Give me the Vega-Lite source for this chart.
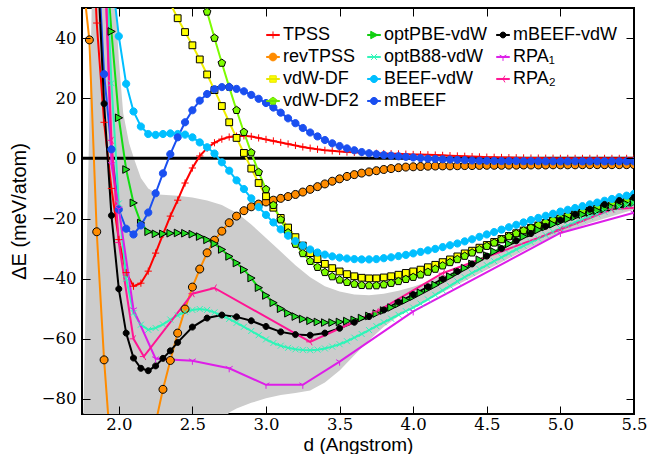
{
"$schema": "https://vega.github.io/schema/vega-lite/v6.json",
"width": 552, "height": 406,
"autosize": {"type": "none"},
"padding": {"left": 82, "top": 8, "right": 13, "bottom": 40},
"background": "white",
"config": {"view": {"stroke": "black", "strokeWidth": 2}, "axis": {"grid": false, "domain": false}},
"datasets": {
"main": [
{"d":1.75,"R":62},
{"d":1.8,"T":100,"R":39.4,"M":110,"K":120},
{"d":1.85,"T":45,"R":-24.4,"P":110,"B":120,"M":75,"K":70},
{"d":1.9,"T":12,"R":-67,"P":75,"B":80,"C":100,"M":28,"K":18.2,"R1":75,"R2":70},
{"d":1.95,"T":-10,"R":-100,"P":42.2,"B":25,"C":62,"M":3,"K":-19,"R1":-2,"R2":6},
{"d":2.0,"T":-27,"R":-125,"P":13.5,"B":-15,"C":40.6,"M":-17,"K":-43.4,"R1":-16.8,"R2":-28},
{"d":2.05,"T":-38,"R":-135,"P":-3.7,"B":-40,"C":24.8,"M":-23.4,"K":-58.1},
{"d":2.1,"T":-42.5,"R":-135,"P":-14.8,"B":-51.4,"C":15.6,"M":-25.3,"K":-66.4,"R1":-50.3,"R2":-60},
{"d":2.15,"T":-41.5,"R":-125,"P":-21.5,"B":-55.3,"C":10.6,"M":-22.3,"K":-69.8},
{"d":2.17,"R2":-65.9},
{"d":2.2,"T":-37.5,"R":-108,"P":-24.4,"B":-57,"C":8.1,"M":-18,"K":-70.6},
{"d":2.25,"T":-31.5,"R":-88,"P":-25.1,"B":-56.4,"C":7.8,"M":-11.6,"K":-69,"R1":-66.6},
{"d":2.3,"T":-25.3,"R":-76.8,"Y":57,"P":-25.1,"B":-55.2,"C":8.1,"M":-5,"K":-66.5},
{"d":2.35,"T":-19.2,"R":-67.2,"Y":51.5,"P":-24.9,"B":-53.6,"C":8.3,"M":1.4,"K":-64},
{"d":2.4,"T":-13.9,"R":-58.1,"Y":46.6,"P":-24.8,"B":-52.2,"C":8.1,"M":7,"K":-61.2},
{"d":2.45,"T":-8.2,"R":-50.1,"Y":42,"P":-24.9,"B":-51,"C":7.9,"M":12},
{"d":2.5,"T":-3.2,"R":-42.8,"Y":37.6,"G":70,"P":-25.2,"B":-50.4,"C":7,"M":16,"K":-56.1,"R1":-67.3,"R2":-45},
{"d":2.55,"T":0.8,"R":-36.8,"Y":32.9,"G":58.5,"P":-26,"B":-50.1,"C":5.3,"M":19.2},
{"d":2.6,"T":3.4,"R":-31.4,"Y":27.9,"G":48.7,"P":-27.1,"B":-50.4,"C":3.7,"M":21.4,"K":-53.1},
{"d":2.65,"T":5.2,"R":-27.2,"Y":22.7,"G":40,"P":-28.4,"B":-51.2,"C":1.6,"M":23,"R2":-43.1},
{"d":2.7,"T":6.4,"R":-24.2,"Y":17.4,"G":31.7,"P":-30.3,"B":-52.3,"C":-1.3,"M":23.7,"K":-52.1},
{"d":2.75,"T":7.1,"R":-21.4,"Y":12,"G":23.7,"P":-32.6,"B":-53.4,"C":-4.1,"M":23.7,"R1":-69.8},
{"d":2.8,"T":7.4,"R":-19.2,"Y":6.8,"G":16,"P":-34.8,"B":-54.7,"C":-7.3,"M":23.1,"K":-52.7},
{"d":2.85,"T":7.5,"R":-17.4,"Y":1.8,"G":8.7,"P":-37,"B":-56,"C":-10.2,"M":22.3},
{"d":2.9,"T":7.3,"R":-16.1,"Y":-3.4,"G":1.9,"P":-39.8,"B":-57.4,"C":-13.3,"M":21.1,"K":-54},
{"d":2.95,"T":6.8,"R":-15.2,"Y":-8.2,"G":-4.6,"P":-43,"B":-58.8,"C":-16.2,"M":19.8},
{"d":3.0,"T":6.3,"R":-14.5,"Y":-12.6,"G":-10.3,"P":-45.6,"B":-60.2,"C":-18.8,"M":18.4,"K":-55.9,"R1":-75.3},
{"d":3.05,"T":5.8,"R":-13.9,"Y":-16.4,"G":-15.6,"P":-48,"B":-61.4,"C":-21.3,"M":16.9},
{"d":3.1,"T":5.3,"R":-13.3,"Y":-19.8,"G":-20.4,"P":-50,"B":-62.3,"C":-23.6,"M":15.2,"K":-57.7},
{"d":3.15,"T":4.8,"R":-12.7,"Y":-23,"G":-24.7,"P":-51.5,"B":-63,"C":-25.7,"M":13.3},
{"d":3.2,"T":4.3,"R":-12,"Y":-26.2,"G":-28.5,"P":-52.6,"B":-63.5,"C":-27.5,"M":11.7,"K":-58.6},
{"d":3.25,"T":3.8,"R":-11.2,"Y":-29,"G":-31.6,"P":-53.4,"B":-63.7,"C":-29,"M":10.1,"R1":-75.3},
{"d":3.3,"T":3.4,"R":-10.3,"Y":-31.5,"G":-34.2,"P":-54,"B":-63.8,"C":-30.3,"M":8.6,"K":-58.8,"R2":-61},
{"d":3.35,"T":3.0,"R":-9.4,"Y":-33.5,"G":-36.2,"P":-54.4,"B":-63.6,"C":-31.3,"M":7.3},
{"d":3.4,"T":2.7,"R":-8.5,"Y":-35.1,"G":-37.9,"P":-54.6,"B":-63.2,"C":-32,"M":6.1,"K":-58.1},
{"d":3.45,"T":2.5,"R":-7.6,"Y":-36.5,"G":-39.3,"P":-54.6,"B":-62.6,"C":-32.6,"M":5},
{"d":3.5,"T":2.3,"R":-6.8,"Y":-37.6,"G":-40.4,"P":-54.4,"B":-61.8,"C":-33,"M":4.1,"K":-56.5,"R1":-67.6},
{"d":3.55,"T":2.1,"R":-6.0,"Y":-38.5,"G":-41.2,"P":-54.1,"B":-60.8,"C":-33.3,"M":3.3},
{"d":3.6,"T":2.0,"R":-5.4,"Y":-39.2,"G":-41.8,"P":-53.7,"B":-59.6,"C":-33.5,"M":2.7,"K":-54.5},
{"d":3.65,"T":1.9,"R":-4.9,"Y":-39.7,"G":-42.2,"P":-53.1,"B":-58.4,"C":-33.6,"M":2.1},
{"d":3.7,"T":1.8,"R":-4.5,"Y":-39.9,"G":-42.3,"P":-52.4,"B":-57.1,"C":-33.6,"M":1.7,"K":-52.6},
{"d":3.75,"T":1.7,"R":-4.1,"Y":-39.9,"G":-42.3,"P":-51.6,"B":-55.8,"C":-33.5,"M":1.4,"R2":-51},
{"d":3.8,"T":1.6,"R":-3.7,"Y":-39.6,"G":-42,"P":-50.6,"B":-54.5,"C":-33.2,"M":1.1,"K":-50.4},
{"d":3.85,"T":1.55,"R":-3.4,"Y":-39.2,"G":-41.5,"P":-49.6,"B":-53.3,"C":-32.9,"M":0.9},
{"d":3.9,"T":1.5,"R":-3.1,"Y":-38.7,"G":-40.9,"P":-48.4,"B":-52,"C":-32.5,"M":0.7,"K":-47.8},
{"d":3.95,"T":1.4,"R":-2.9,"Y":-38.1,"G":-40.2,"P":-47.2,"B":-50.8,"C":-32.1,"M":0.5},
{"d":4.0,"T":1.3,"R":-2.8,"Y":-37.6,"G":-39.5,"P":-46,"B":-49.6,"C":-31.6,"M":0.3,"K":-45.3,"R1":-50.9},
{"d":4.05,"T":1.25,"R":-2.7,"Y":-37,"G":-38.7,"P":-44.7,"B":-48.3,"C":-31.1,"M":0.1},
{"d":4.1,"T":1.2,"R":-2.6,"Y":-36.2,"G":-37.8,"P":-43.4,"B":-46.9,"C":-30.6,"M":-0.1,"K":-42.7},
{"d":4.15,"T":1.1,"R":-2.55,"Y":-35.4,"G":-36.8,"P":-42.1,"B":-45.4,"C":-30.1,"M":-0.2},
{"d":4.2,"T":1.0,"R":-2.5,"Y":-34.5,"G":-35.7,"P":-40.7,"B":-43.9,"C":-29.5,"M":-0.3,"K":-40.1,"R2":-38.2},
{"d":4.25,"T":0.9,"R":-2.5,"Y":-33.6,"G":-34.6,"P":-39.3,"B":-42.4,"C":-28.9,"M":-0.4},
{"d":4.3,"T":0.8,"R":-2.45,"Y":-32.6,"G":-33.6,"P":-37.9,"B":-40.9,"C":-28.3,"M":-0.5,"K":-37.6},
{"d":4.35,"T":0.7,"R":-2.4,"Y":-31.6,"G":-32.5,"P":-36.5,"B":-39.5,"C":-27.6,"M":-0.6},
{"d":4.4,"T":0.6,"R":-2.4,"Y":-30.7,"G":-31.4,"P":-35.1,"B":-38.1,"C":-26.9,"M":-0.7,"K":-35.1},
{"d":4.45,"T":0.5,"R":-2.35,"Y":-29.7,"G":-30.3,"P":-33.7,"B":-36.8,"C":-26.1,"M":-0.8},
{"d":4.5,"T":0.4,"R":-2.3,"Y":-28.8,"G":-29.2,"P":-32.3,"B":-35.5,"C":-25.3,"M":-0.8,"K":-32.5},
{"d":4.55,"T":0.35,"R":-2.3,"Y":-27.8,"G":-28.1,"P":-31,"B":-34.2,"C":-24.5,"M":-0.85},
{"d":4.6,"T":0.3,"R":-2.3,"Y":-26.8,"G":-27,"P":-29.7,"B":-32.9,"C":-23.7,"M":-0.9,"K":-30},
{"d":4.65,"T":0.25,"R":-2.25,"Y":-25.8,"G":-26,"P":-28.4,"B":-31.6,"C":-22.9,"M":-0.9},
{"d":4.7,"T":0.2,"R":-2.25,"Y":-24.9,"G":-25,"P":-27.2,"B":-30.3,"C":-22.1,"M":-0.9,"K":-27.4},
{"d":4.75,"T":0.15,"R":-2.2,"Y":-24,"G":-24,"P":-26,"B":-29.1,"C":-21.3,"M":-0.95},
{"d":4.8,"T":0.1,"R":-2.2,"Y":-23.1,"G":-23.1,"P":-24.9,"B":-27.9,"C":-20.5,"M":-0.95,"K":-25},
{"d":4.85,"T":0.1,"R":-2.2,"Y":-22.3,"G":-22.2,"P":-23.8,"B":-26.7,"C":-19.8,"M":-0.95},
{"d":4.9,"T":0.05,"R":-2.2,"Y":-21.5,"G":-21.3,"P":-22.8,"B":-25.5,"C":-19.1,"M":-1,"K":-22.6},
{"d":4.95,"T":0.05,"R":-2.15,"Y":-20.7,"G":-20.5,"P":-21.9,"B":-24.4,"C":-18.4,"M":-1},
{"d":5.0,"T":0,"R":-2.15,"Y":-20,"G":-19.7,"P":-21,"B":-23.3,"C":-17.7,"M":-1,"K":-20.5,"R1":-24.8,"R2":-23.7},
{"d":5.05,"T":0,"R":-2.15,"Y":-19.3,"G":-19,"P":-20.2,"B":-22.3,"C":-17.1,"M":-1},
{"d":5.1,"T":0,"R":-2.15,"Y":-18.6,"G":-18.3,"P":-19.4,"B":-21.3,"C":-16.5,"M":-1,"K":-18.6},
{"d":5.15,"T":0,"R":-2.1,"Y":-18,"G":-17.6,"P":-18.7,"B":-20.3,"C":-15.9,"M":-1},
{"d":5.2,"T":0,"R":-2.1,"Y":-17.4,"G":-17,"P":-18,"B":-19.4,"C":-15.3,"M":-1,"K":-16.9},
{"d":5.25,"T":0,"R":-2.1,"Y":-16.8,"G":-16.4,"P":-17.4,"B":-18.6,"C":-14.7,"M":-1},
{"d":5.3,"T":0,"R":-2.1,"Y":-16.2,"G":-15.8,"P":-16.8,"B":-17.8,"C":-14.1,"M":-1,"K":-15.3},
{"d":5.35,"T":0,"R":-2.1,"Y":-15.7,"G":-15.2,"P":-16.2,"B":-17,"C":-13.5,"M":-1,"R2":-16.9},
{"d":5.4,"T":0,"R":-2.1,"Y":-15.2,"G":-14.7,"P":-15.7,"B":-16.3,"C":-12.9,"M":-1,"K":-14},
{"d":5.45,"T":0,"R":-2.1,"Y":-14.7,"G":-14.2,"P":-15.2,"B":-15.6,"C":-12.4,"M":-1},
{"d":5.5,"T":0,"R":-2.1,"Y":-14.2,"G":-13.7,"P":-14.7,"B":-15,"C":-11.8,"M":-1,"K":-13,"R1":-18.1,"R2":-16.4}
],
"band": [
{"d":1.755,"lo":-95,"hi":-95},
{"d":1.82,"lo":-95,"hi":60},
{"d":1.97,"lo":-95,"hi":60},
{"d":1.98,"lo":-95,"hi":50},
{"d":2.0,"lo":-95,"hi":33},
{"d":2.03,"lo":-95,"hi":15},
{"d":2.07,"lo":-95,"hi":5},
{"d":2.11,"lo":-95,"hi":-1},
{"d":2.15,"lo":-95,"hi":-6.5},
{"d":2.2,"lo":-95,"hi":-10},
{"d":2.27,"lo":-95,"hi":-12},
{"d":2.4,"lo":-95,"hi":-12.4},
{"d":2.5,"lo":-95,"hi":-13},
{"d":2.6,"lo":-95,"hi":-14},
{"d":2.7,"lo":-88,"hi":-15.5},
{"d":2.75,"lo":-84.5,"hi":-16.8},
{"d":2.8,"lo":-83.2,"hi":-18},
{"d":2.9,"lo":-81.3,"hi":-22},
{"d":3.0,"lo":-79.8,"hi":-26.5},
{"d":3.1,"lo":-78.7,"hi":-31},
{"d":3.2,"lo":-78,"hi":-35.5},
{"d":3.3,"lo":-77.2,"hi":-39.5},
{"d":3.4,"lo":-74.5,"hi":-42.5},
{"d":3.5,"lo":-70.5,"hi":-44.3},
{"d":3.6,"lo":-65.5,"hi":-45.3},
{"d":3.7,"lo":-60.5,"hi":-45.5},
{"d":3.8,"lo":-56,"hi":-45},
{"d":3.9,"lo":-52.5,"hi":-44},
{"d":4.0,"lo":-49.5,"hi":-42.7},
{"d":4.1,"lo":-47,"hi":-41},
{"d":4.2,"lo":-44.5,"hi":-39},
{"d":4.3,"lo":-42,"hi":-37},
{"d":4.4,"lo":-39.5,"hi":-34.8},
{"d":4.5,"lo":-37,"hi":-32.5},
{"d":4.6,"lo":-34.5,"hi":-30},
{"d":4.8,"lo":-29.5,"hi":-25},
{"d":5.0,"lo":-25,"hi":-20.5},
{"d":5.2,"lo":-21.5,"hi":-17},
{"d":5.5,"lo":-17,"hi":-12.5}
]
},
"resolve": {"scale": {"shape": "independent", "fill": "independent", "stroke": "independent"}, "axis": {"x": "independent", "y": "independent"}},
"layer": [
{
"data": {"name": "band"},
"mark": {"type": "area", "color": "#cccccc", "opacity": 1, "clip": true},
"encoding": {
"x": {"field": "d", "type": "quantitative", "scale": {"domain": [1.75, 5.5], "nice": false, "zero": false},
 "axis": {"orient": "top", "values": [2, 2.5, 3, 3.5, 4, 4.5, 5, 5.5], "labels": false, "tickSize": -8, "tickColor": "black", "tickWidth": 1, "title": null, "domain": false, "grid": false, "zindex": 1}},
"y": {"field": "lo", "type": "quantitative", "scale": {"domain": [-85, 50], "nice": false, "zero": false},
 "axis": {"orient": "right", "values": [-80, -60, -40, -20, 0, 20, 40], "labels": false, "tickSize": -8, "tickColor": "black", "tickWidth": 1, "title": null, "domain": false, "grid": false, "zindex": 1}},
"y2": {"field": "hi"}
}
},
{
"data": {"values": [{}]},
"mark": {"type": "rule", "color": "black", "strokeWidth": 3},
"encoding": {"y": {"datum": 0, "type": "quantitative", "scale": {"domain": [-85, 50], "nice": false, "zero": false}, "axis": null}}
},
{
"data": {"name": "main"},
"transform": [{"fold": ["T", "R", "Y", "G", "P", "B", "C", "M", "K", "R1", "R2"], "as": ["s", "e"]}, {"filter": "isValid(datum.e)"}],
"mark": {"type": "line", "strokeWidth": 2, "clip": true},
"encoding": {
"x": {"field": "d", "type": "quantitative", "scale": {"domain": [1.75, 5.5], "nice": false, "zero": false},
 "axis": {"orient": "bottom", "values": [2, 2.5, 3, 3.5, 4, 4.5, 5, 5.5], "format": ".1f", "tickSize": -8, "tickColor": "black", "tickWidth": 1, "labelPadding": 10, "labelFont": "DejaVu Serif", "labelFontSize": 16.5, "labelColor": "black", "labelFlush": false, "labelOverlap": false, "title": "d (Angstrom)", "titleFont": "Liberation Sans", "titleFontSize": 19, "titleFontWeight": "normal", "titleColor": "black", "titleY": 36, "titleBaseline": "alphabetic", "domain": false, "grid": false, "zindex": 1}},
"y": {"field": "e", "type": "quantitative", "scale": {"domain": [-85, 50], "nice": false, "zero": false},
 "axis": {"orient": "left", "values": [-80, -60, -40, -20, 0, 20, 40], "format": "d", "tickSize": -8, "tickColor": "black", "tickWidth": 1, "labelPadding": 14, "labelFont": "DejaVu Serif", "labelFontSize": 16.5, "labelColor": "black", "labelFlush": false, "title": "ΔE (meV/atom)", "titleFont": "Liberation Sans", "titleFontSize": 20, "titleFontWeight": "normal", "titleColor": "black", "titleX": -57, "titleY": 203, "titleBaseline": "alphabetic", "domain": false, "grid": false, "zindex": 1}},
"color": {"field": "s", "type": "nominal", "legend": null,
 "scale": {"domain": ["T", "R", "Y", "G", "P", "B", "C", "M", "K", "R1", "R2"], "range": ["#ff0000", "#ff8c00", "#eeee00", "#7cfc00", "#11dd11", "#2ef5b8", "#00bfff", "#1a4ff0", "#000000", "#dd1ee8", "#ff1493"]}}
}
},
{
"data": {"name": "main"},
"transform": [{"fold": ["T", "R", "Y", "G", "P", "B", "C", "M", "K", "R1", "R2"], "as": ["s", "e"]}, {"filter": "isValid(datum.e)"}],
"mark": {"type": "point", "filled": true, "size": 64, "strokeWidth": 1, "opacity": 1, "clip": true},
"encoding": {
"x": {"field": "d", "type": "quantitative", "scale": {"domain": [1.75, 5.5], "nice": false, "zero": false}, "axis": null},
"y": {"field": "e", "type": "quantitative", "scale": {"domain": [-85, 50], "nice": false, "zero": false}, "axis": null},
"shape": {"field": "s", "type": "nominal", "legend": null,
 "scale": {"domain": ["T", "R", "Y", "G", "P", "B", "C", "M", "K", "R1", "R2"], "range": [
  "M-0.9,0L0.9,0M0,-0.9L0,0.9",
  "M1,0A1,1,0,1,1,-1,0A1,1,0,1,1,1,0Z",
  "M-0.85,-0.85L0.85,-0.85L0.85,0.85L-0.85,0.85Z",
  "M0,-1L0.95,-0.31L0.59,0.81L-0.59,0.81L-0.95,-0.31Z",
  "M-0.85,-0.95L0.95,0L-0.85,0.95Z",
  "M-0.75,-0.75L0.75,0.75M-0.75,0.75L0.75,-0.75",
  "M0.9,0A0.9,0.9,0,1,1,-0.9,0A0.9,0.9,0,1,1,0.9,0Z",
  "M0.9,0A0.9,0.9,0,1,1,-0.9,0A0.9,0.9,0,1,1,0.9,0Z",
  "M0.75,0A0.75,0.75,0,1,1,-0.75,0A0.75,0.75,0,1,1,0.75,0Z",
  "M0,0L0,1M0,0L-0.87,-0.5M0,0L0.87,-0.5",
  "M0,0L-1,0M0,0L0.5,-0.87M0,0L0.5,0.87"]}},
"fill": {"field": "s", "type": "nominal", "legend": null,
 "scale": {"domain": ["T", "R", "Y", "G", "P", "B", "C", "M", "K", "R1", "R2"], "range": ["transparent", "#ff8c00", "#ffff00", "#7cfc00", "#22dd22", "transparent", "#00bfff", "#1a4ff0", "#000000", "transparent", "transparent"]}},
"stroke": {"field": "s", "type": "nominal", "legend": null,
 "scale": {"domain": ["T", "R", "Y", "G", "P", "B", "C", "M", "K", "R1", "R2"], "range": ["#ff0000", "#000000", "#000000", "#000000", "#000000", "#2ef5b8", "#00bfff", "#1a4ff0", "#000000", "#dd1ee8", "#ff1493"]}}
}
},
{
"data": {"name": "main"},
"transform": [{"fold": ["T", "R", "Y", "G", "P", "B", "C", "M", "K", "R1", "R2"], "as": ["s", "e"]}, {"filter": "false"}],
"mark": {"type": "point", "filled": true, "size": 169, "strokeWidth": 1, "opacity": 1},
"encoding": {
"shape": {"field": "s", "type": "nominal",
 "scale": {"domain": ["T", "R", "Y", "G", "P", "B", "C", "M", "K", "R1", "R2"], "range": [
  "M-1,-0.08L1,-0.08L1,0.08L-1,0.08ZM-0.55,0L0.55,0M0,-0.55L0,0.55",
  "M-1,-0.08L1,-0.08L1,0.08L-1,0.08ZM0.6,0A0.6,0.6,0,1,1,-0.6,0A0.6,0.6,0,1,1,0.6,0Z",
  "M-1,-0.08L1,-0.08L1,0.08L-1,0.08ZM-0.5,-0.5L0.5,-0.5L0.5,0.5L-0.5,0.5Z",
  "M-1,-0.08L1,-0.08L1,0.08L-1,0.08ZM0,-0.6L0.57,-0.19L0.35,0.49L-0.35,0.49L-0.57,-0.19Z",
  "M-1,-0.08L1,-0.08L1,0.08L-1,0.08ZM-0.5,-0.57L0.57,0L-0.5,0.57Z",
  "M-1,-0.08L1,-0.08L1,0.08L-1,0.08ZM-0.45,-0.45L0.45,0.45M-0.45,0.45L0.45,-0.45",
  "M-1,-0.08L1,-0.08L1,0.08L-1,0.08ZM0.55,0A0.55,0.55,0,1,1,-0.55,0A0.55,0.55,0,1,1,0.55,0Z",
  "M-1,-0.08L1,-0.08L1,0.08L-1,0.08ZM0.55,0A0.55,0.55,0,1,1,-0.55,0A0.55,0.55,0,1,1,0.55,0Z",
  "M-1,-0.08L1,-0.08L1,0.08L-1,0.08ZM0.45,0A0.45,0.45,0,1,1,-0.45,0A0.45,0.45,0,1,1,0.45,0Z",
  "M-1,-0.08L1,-0.08L1,0.08L-1,0.08ZM0,0L0,0.6M0,0L-0.52,-0.3M0,0L0.52,-0.3",
  "M-1,-0.08L1,-0.08L1,0.08L-1,0.08ZM0,0L-0.6,0M0,0L0.3,-0.52M0,0L0.3,0.52"]},
 "legend": {"orient": "none", "legendX": 182, "legendY": 18, "columns": 3, "columnPadding": 6, "rowPadding": 4, "symbolSize": 169, "symbolStrokeWidth": 1, "symbolOpacity": 1, "labelFont": "Liberation Sans", "labelFontSize": 18, "labelColor": "black", "labelOffset": 1, "labelLimit": 300, "title": null, "padding": 0,
  "labelExpr": "{'T':'TPSS','R':'revTPSS','Y':'vdW-DF','G':'vdW-DF2','P':'optPBE-vdW','B':'optB88-vdW','C':'BEEF-vdW','M':'mBEEF','K':'mBEEF-vdW','R1':'RPA₁','R2':'RPA₂'}[datum.label]"}},
"fill": {"field": "s", "type": "nominal",
 "scale": {"domain": ["T", "R", "Y", "G", "P", "B", "C", "M", "K", "R1", "R2"], "range": ["transparent", "#ff8c00", "#ffff00", "#7cfc00", "#11dd11", "transparent", "#00bfff", "#1a4ff0", "#000000", "transparent", "transparent"]},
 "legend": {"orient": "none", "legendX": 182, "legendY": 18, "columns": 3, "columnPadding": 6, "rowPadding": 4, "symbolSize": 169, "symbolStrokeWidth": 1, "symbolOpacity": 1, "labelFont": "Liberation Sans", "labelFontSize": 18, "labelColor": "black", "labelOffset": 1, "labelLimit": 300, "title": null, "padding": 0,
  "labelExpr": "{'T':'TPSS','R':'revTPSS','Y':'vdW-DF','G':'vdW-DF2','P':'optPBE-vdW','B':'optB88-vdW','C':'BEEF-vdW','M':'mBEEF','K':'mBEEF-vdW','R1':'RPA₁','R2':'RPA₂'}[datum.label]"}},
"stroke": {"field": "s", "type": "nominal",
 "scale": {"domain": ["T", "R", "Y", "G", "P", "B", "C", "M", "K", "R1", "R2"], "range": ["#ff0000", "#ff8c00", "#e6e600", "#6ee000", "#11cc11", "#2ef5b8", "#00bfff", "#1a4ff0", "#000000", "#dd1ee8", "#ff1493"]},
 "legend": {"orient": "none", "legendX": 182, "legendY": 18, "columns": 3, "columnPadding": 6, "rowPadding": 4, "symbolSize": 169, "symbolStrokeWidth": 1, "symbolOpacity": 1, "labelFont": "Liberation Sans", "labelFontSize": 18, "labelColor": "black", "labelOffset": 1, "labelLimit": 300, "title": null, "padding": 0,
  "labelExpr": "{'T':'TPSS','R':'revTPSS','Y':'vdW-DF','G':'vdW-DF2','P':'optPBE-vdW','B':'optB88-vdW','C':'BEEF-vdW','M':'mBEEF','K':'mBEEF-vdW','R1':'RPA₁','R2':'RPA₂'}[datum.label]"}}
}
}
]
}
